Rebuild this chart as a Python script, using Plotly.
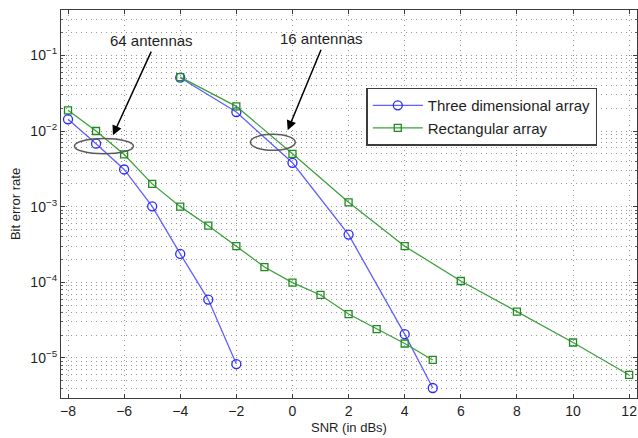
import plotly.graph_objects as go

# ---- data ----
snr_3d_64 = [-8, -7, -6, -5, -4, -3, -2]
ber_3d_64 = [0.0143, 0.0068, 0.0031, 0.00101, 2.37e-4, 5.9e-5, 8.3e-6]
snr_3d_16 = [-4, -2, 0, 2, 4, 5]
ber_3d_16 = [0.0507, 0.0178, 0.0038, 4.27e-4, 2.06e-5, 4.0e-6]

snr_rect_64 = [-8, -7, -6, -5, -4, -3, -2, -1, 0, 1, 2, 3, 4, 5]
ber_rect_64 = [0.0188, 0.0100, 0.0049, 0.0020, 1.0e-3, 5.6e-4, 3.0e-4, 1.59e-4,
               9.9e-5, 6.8e-5, 3.8e-5, 2.4e-5, 1.55e-5, 9.4e-6]
snr_rect_16 = [-4, -2, 0, 2, 4, 6, 8, 10, 12]
ber_rect_16 = [0.0517, 0.0212, 0.0050, 1.14e-3, 3.0e-4, 1.04e-4, 4.1e-5, 1.6e-5, 5.95e-6]

series_names = ["Three dimensional array", "Rectangular array"]
x_ticks = [-8, -6, -4, -2, 0, 2, 4, 6, 8, 10, 12]
y_ticks = [1e-5, 1e-4, 1e-3, 1e-2, 1e-1]
y_ticktext = ["10<sup>\u22125</sup>", "10<sup>\u22124</sup>", "10<sup>\u22123</sup>",
              "10<sup>\u22122</sup>", "10<sup>\u22121</sup>"]

BLUE_LINE = "rgb(95,95,255)"
BLUE_MARK = "rgb(40,40,255)"
GREEN_LINE = "rgb(60,160,60)"
GREEN_MARK = "rgb(30,140,30)"
FONT = "Liberation Sans, Arial, Helvetica, sans-serif"
GRID = "rgb(150,150,150)"
GRID_DASH = "1px,4px"

fig = go.Figure()
fig.add_trace(go.Scatter(
    x=snr_3d_64 + [None] + snr_3d_16,
    y=ber_3d_64 + [None] + ber_3d_16,
    mode="lines+markers", name=series_names[0], connectgaps=False,
    line=dict(color=BLUE_LINE, width=1.3),
    marker=dict(symbol="circle-open", size=9, color=BLUE_MARK, line=dict(width=1.3)),
))
fig.add_trace(go.Scatter(
    x=snr_rect_64 + [None] + snr_rect_16,
    y=ber_rect_64 + [None] + ber_rect_16,
    mode="lines+markers", name=series_names[1], connectgaps=False,
    line=dict(color=GREEN_LINE, width=1.3),
    marker=dict(symbol="square-open", size=7, color=GREEN_MARK, line=dict(width=1.3)),
))

# ellipses (data coordinates)
fig.add_shape(type="circle", xref="x", yref="y", x0=-7.77, x1=-5.67,
              y0=10 ** -2.30, y1=10 ** -2.10, line=dict(color="rgb(90,90,90)", width=1.5))
fig.add_shape(type="circle", xref="x", yref="y", x0=-1.50, x1=0.10,
              y0=10 ** -2.255, y1=10 ** -2.043, line=dict(color="rgb(90,90,90)", width=1.5))

# arrows and labels (log10 for y on log axis)
for tx, ty, hx, hy, label in [(-5.01, -0.80, -6.40, -2.057, "64 antennas"),
                              (1.04, -0.775, -0.17, -1.99, "16 antennas")]:
    fig.add_annotation(x=hx, y=hy, ax=tx, ay=ty - 0.13, xref="x", yref="y",
                       axref="x", ayref="y", text="", showarrow=True,
                       arrowhead=2, arrowsize=1.3, arrowwidth=1.5, arrowcolor="black")
    fig.add_annotation(x=tx, y=ty, xref="x", yref="y", text=label, showarrow=False,
                       font=dict(family=FONT, size=15, color="rgb(30,30,30)"))

minor_y = [k * 10 ** e for e in range(-6, 0) for k in range(2, 10)]

fig.update_layout(
    width=638, height=438,
    margin=dict(l=61, r=1, t=10, b=40),
    paper_bgcolor="white", plot_bgcolor="white",
    font=dict(family=FONT, size=13, color="rgb(30,30,30)"),
    showlegend=True,
    legend=dict(x=0.53, y=0.80, xanchor="left", yanchor="top",
                bgcolor="white", bordercolor="rgb(60,60,60)", borderwidth=1.5,
                font=dict(size=15, color="rgb(30,30,30)"), itemwidth=50,
                tracegroupgap=0),
    xaxis=dict(
        range=[-8.25, 12.28], tickvals=x_ticks,
        ticktext=[str(v).replace("-", "\u2212") for v in x_ticks],
        ticks="inside", ticklen=4, tickcolor="rgb(60,60,60)",
        showline=True, linecolor="rgb(60,60,60)", linewidth=1.2, mirror="allticks",
        showgrid=True, gridcolor=GRID, griddash=GRID_DASH, gridwidth=1,
        zeroline=False,
        title=dict(text="SNR (in dBs)", standoff=4, font=dict(size=13)),
        tickfont=dict(size=14),
    ),
    yaxis=dict(
        type="log", range=[-5.53, -0.40], tickvals=y_ticks, ticktext=y_ticktext,
        ticks="inside", ticklen=4, tickcolor="rgb(60,60,60)",
        showline=True, linecolor="rgb(60,60,60)", linewidth=1.2, mirror="allticks",
        showgrid=True, gridcolor=GRID, griddash=GRID_DASH, gridwidth=1,
        zeroline=False,
        minor=dict(tickvals=minor_y, ticks="inside", ticklen=2, tickcolor="rgb(90,90,90)",
                   showgrid=True, gridcolor=GRID, griddash=GRID_DASH, gridwidth=1),
        title=dict(text="Bit error rate", standoff=6, font=dict(size=13)),
        tickfont=dict(size=14),
    ),
)

fig.write_html("out.html")
